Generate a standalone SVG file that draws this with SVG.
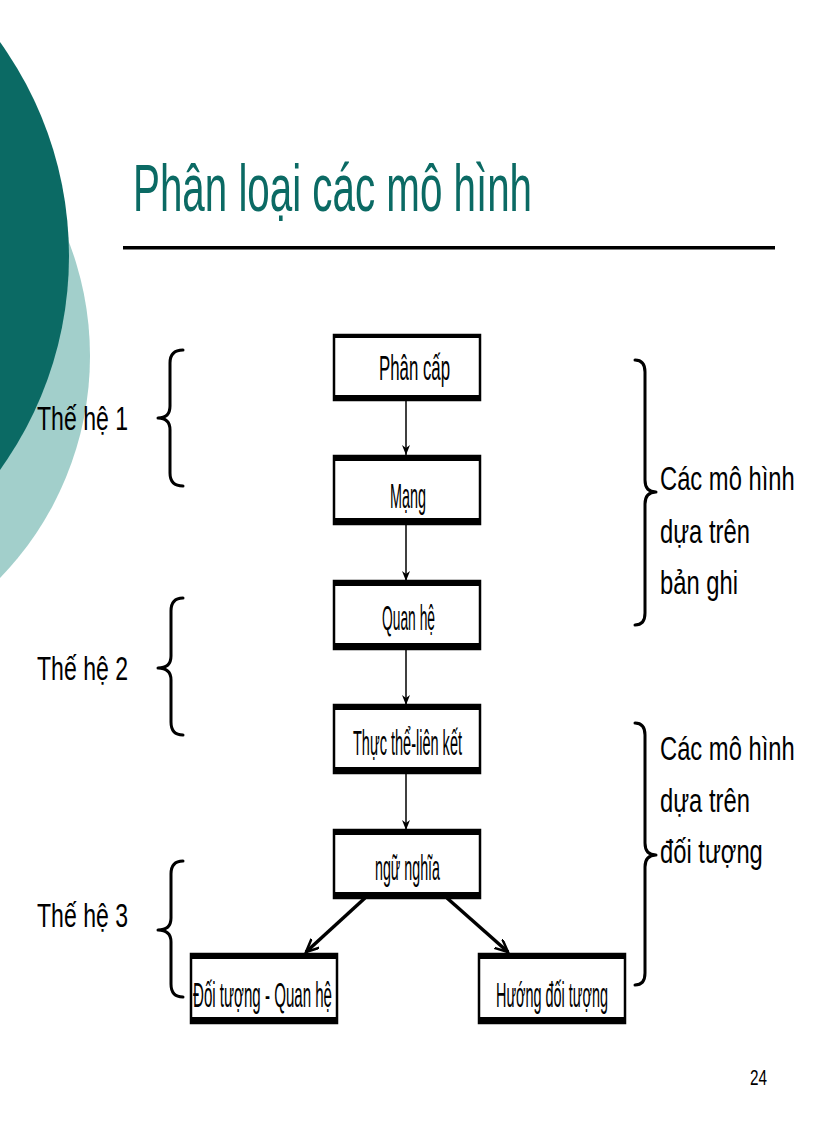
<svg xmlns="http://www.w3.org/2000/svg" width="816" height="1123" viewBox="0 0 816 1123">
<style>
.t{font-family:"Liberation Sans",Arial,sans-serif;fill:#000}
.bt{font-size:35px}
.box{fill:#fff;stroke:#000;stroke-width:2.5}
.band{fill:#000}
.brace{fill:none;stroke:#000;stroke-width:3;stroke-linecap:round;stroke-linejoin:round}
.conn{stroke:#000;stroke-width:1.5;fill:none}
.conn2{stroke:#000;stroke-width:3.5;fill:none}
</style>
<defs>
<marker id="ah" markerUnits="userSpaceOnUse" markerWidth="12" markerHeight="10" refX="10" refY="4" orient="auto">
<path d="M0,0 L10,4 L0,8 L3,4 Z" fill="#000"/>
</marker>
<marker id="ah2" markerUnits="userSpaceOnUse" markerWidth="16" markerHeight="14" refX="13" refY="6" orient="auto">
<path d="M0,0 L13,6 L0,12" fill="none" stroke="#000" stroke-width="2.5"/>
</marker>
</defs>
<rect width="816" height="1123" fill="#fff"/>
<g id="background">
<circle cx="-229" cy="356" r="319" fill="#a2cfcb"/>
<circle cx="-297" cy="256" r="366" fill="#0b6a64"/>
</g>
<g id="title">
<text class="t" x="133" y="211" font-size="66" style="fill:#0b6a64" textLength="399" lengthAdjust="spacingAndGlyphs">Phân loại các mô hình</text>
<rect x="123" y="246" width="652" height="3.5" fill="#000"/>
</g>
<g id="connectors">
<line class="conn" x1="406" y1="400" x2="406" y2="455" marker-end="url(#ah)"/>
<line class="conn" x1="406" y1="524" x2="406" y2="581" marker-end="url(#ah)"/>
<line class="conn" x1="406" y1="649" x2="406" y2="705" marker-end="url(#ah)"/>
<line class="conn" x1="406" y1="773" x2="406" y2="830" marker-end="url(#ah)"/>
<line class="conn2" x1="365" y1="898" x2="306" y2="952" marker-end="url(#ah2)"/>
<line class="conn2" x1="447" y1="898" x2="508" y2="952" marker-end="url(#ah2)"/>
</g>
<g id="n1">
<rect class="box" x="334" y="335" width="146" height="65"/>
<rect class="band" x="333" y="334" width="148" height="4"/>
<rect class="band" x="333" y="395" width="148" height="6"/>
<text class="t bt" x="379" y="380" textLength="71" lengthAdjust="spacingAndGlyphs">Phân cấp</text>
</g>
<g id="n2">
<rect class="box" x="334" y="456" width="146" height="68"/>
<rect class="band" x="333" y="455" width="148" height="6"/>
<rect class="band" x="333" y="518" width="148" height="7"/>
<text class="t bt" x="390" y="508" textLength="36" lengthAdjust="spacingAndGlyphs">Mạng</text>
</g>
<g id="n3">
<rect class="box" x="334" y="581" width="146" height="68"/>
<rect class="band" x="333" y="580" width="148" height="6"/>
<rect class="band" x="333" y="643" width="148" height="7"/>
<text class="t bt" x="382" y="630" textLength="53" lengthAdjust="spacingAndGlyphs">Quan hệ</text>
</g>
<g id="n4">
<rect class="box" x="334" y="705" width="146" height="68"/>
<rect class="band" x="333" y="704" width="148" height="6"/>
<rect class="band" x="333" y="767" width="148" height="7"/>
<text class="t bt" x="353" y="755" textLength="109" lengthAdjust="spacingAndGlyphs">Thực thể-liên kết</text>
</g>
<g id="n5">
<rect class="box" x="334" y="830" width="146" height="68"/>
<rect class="band" x="333" y="829" width="148" height="6"/>
<rect class="band" x="333" y="892" width="148" height="7"/>
<text class="t bt" x="375" y="880" textLength="65" lengthAdjust="spacingAndGlyphs">ngữ nghĩa</text>
</g>
<g id="n6">
<rect class="box" x="191" y="954" width="146" height="69"/>
<rect class="band" x="190" y="953" width="148" height="6"/>
<rect class="band" x="190" y="1017" width="148" height="7"/>
<text class="t bt" x="193" y="1007" textLength="139" lengthAdjust="spacingAndGlyphs">Đối tượng - Quan hệ</text>
</g>
<g id="n7">
<rect class="box" x="479" y="954" width="146" height="69"/>
<rect class="band" x="478" y="953" width="148" height="6"/>
<rect class="band" x="478" y="1017" width="148" height="7"/>
<text class="t bt" x="496" y="1007" textLength="112" lengthAdjust="spacingAndGlyphs">Hướng đối tượng</text>
</g>
<g id="gen1">
<path class="brace" d="M183,350 Q170,350 170,363 L170,406 Q170,418 158,418 Q170,418 170,430 L170,473 Q170,486 183,486"/>
<text class="t" x="37" y="430" font-size="34" textLength="91" lengthAdjust="spacingAndGlyphs">Thế hệ 1</text>
</g>
<g id="gen2">
<path class="brace" d="M183,598 Q171,598 171,611 L171,656 Q171,668 158,668 Q171,668 171,680 L171,722 Q171,735 183,735"/>
<text class="t" x="37" y="680" font-size="34" textLength="91" lengthAdjust="spacingAndGlyphs">Thế hệ 2</text>
</g>
<g id="gen3">
<path class="brace" d="M183,861 Q171,861 171,874 L171,918 Q171,930 158,930 Q171,930 171,942 L171,984 Q171,997 183,997"/>
<text class="t" x="37" y="927" font-size="34" textLength="91" lengthAdjust="spacingAndGlyphs">Thế hệ 3</text>
</g>
<g id="group-record">
<path class="brace" d="M635,360 Q645,360 645,372 L645,480 Q645,492 656,492 Q645,492 645,504 L645,613 Q645,625 635,625"/>
<text class="t" font-size="33" transform="translate(660,490) scale(0.72,1)">Các mô hình</text>
<text class="t" font-size="33" transform="translate(660,543) scale(0.72,1)">dựa trên</text>
<text class="t" font-size="33" transform="translate(660,594) scale(0.72,1)">bản ghi</text>
</g>
<g id="group-object">
<path class="brace" d="M635,723 Q645,723 645,735 L645,843 Q645,855 656,855 Q645,855 645,867 L645,973 Q645,985 635,985"/>
<text class="t" font-size="33" transform="translate(660,760) scale(0.72,1)">Các mô hình</text>
<text class="t" font-size="33" transform="translate(660,812) scale(0.72,1)">dựa trên</text>
<text class="t" font-size="33" transform="translate(660,863) scale(0.72,1)">đối tượng</text>
</g>
<g id="page">
<text class="t" x="750" y="1085" font-size="22" textLength="17" lengthAdjust="spacingAndGlyphs">24</text>
</g>
</svg>
